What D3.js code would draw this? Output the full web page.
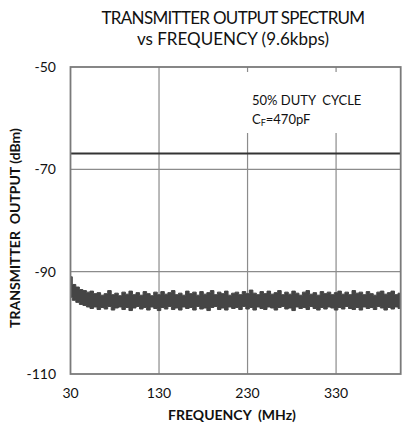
<!DOCTYPE html>
<html><head><meta charset="utf-8">
<script src="https://cdn.jsdelivr.net/npm/d3@7"></script>
<style>body{margin:0;background:#fff}svg{display:block}</style>
</head><body>
<svg id="c" width="402" height="427"></svg>
<script>
const titleLines = ["TRANSMITTER OUTPUT SPECTRUM", "vs FREQUENCY (9.6kbps)"];
const xTicks = [30, 130, 230, 330];
const yTicks = [-50, -70, -90, -110];
const xDomain = [30, 403];
const yDomain = [-110, -50];
const limitLevel = -66.9;
const freqStart = 30, freqStep = 4;
const upperEnv = [-91.0,-92.5,-93.0,-93.5,-93.7,-94.0,-93.8,-94.3,-94.1,-94.6,-94.3,-93.7,-94.5,-94.2,-94.7,-94.0,-94.4,-93.8,-94.5,-94.1,
-94.6,-93.9,-94.3,-94.7,-94.0,-94.5,-93.9,-94.4,-94.1,-93.7,-94.5,-94.2,-94.6,-93.8,-94.3,-94.0,-94.6,-93.9,-94.4,-94.1,
-93.7,-94.5,-94.0,-94.3,-93.8,-94.6,-94.2,-94.0,-94.5,-93.9,-94.3,-93.6,-94.2,-94.5,-93.9,-94.3,-93.8,-94.4,-94.1,-93.7,
-94.5,-94.0,-94.4,-93.8,-94.2,-94.6,-94.0,-93.7,-94.4,-94.1,-94.6,-93.9,-94.3,-94.0,-94.5,-94.1,-93.8,-94.4,-94.0,-94.5,
-93.7,-94.2,-94.0,-94.5,-93.9,-94.3,-94.6,-94.0,-93.8,-94.4,-94.1,-93.8,-94.5,-94.2];
const lowerEnv = [-95.0,-95.6,-96.0,-96.4,-96.6,-96.9,-97.2,-96.9,-97.4,-97.0,-97.3,-96.8,-97.5,-97.1,-96.9,-97.4,-97.0,-97.6,-97.1,-96.8,
-97.3,-97.0,-97.5,-96.9,-97.2,-97.6,-97.0,-97.3,-96.8,-97.4,-97.1,-97.5,-96.9,-97.2,-97.0,-97.5,-96.8,-97.3,-97.1,-97.6,
-97.0,-96.8,-97.4,-97.1,-97.5,-96.9,-97.2,-97.0,-97.4,-96.8,-97.3,-97.0,-97.5,-96.9,-97.2,-97.4,-96.9,-97.1,-97.5,-97.0,
-96.8,-97.3,-97.1,-97.6,-96.9,-97.2,-97.0,-97.4,-96.8,-97.2,-97.5,-97.0,-97.3,-96.9,-97.1,-97.5,-97.0,-97.3,-96.8,-97.2,
-97.4,-97.0,-97.5,-96.9,-97.2,-97.0,-97.4,-96.8,-97.1,-97.5,-97.0,-97.3,-96.9,-97.2];
const freqs = upperEnv.map((_, i) => freqStart + i * freqStep);
const trace = freqs.map((f, i) => ({f, hi: upperEnv[i], lo: lowerEnv[i]}));

const font = "Lato, 'Open Sans', sans-serif";
const m = {l: 70.5, r: 400.7, t: 67, b: 374};
const svg = d3.select("#c");
const x = d3.scaleLinear().domain(xDomain).range([m.l, m.r]);
const y = d3.scaleLinear().domain(yDomain).range([m.b, m.t]);

// gridlines
svg.append("g").selectAll("line").data(xTicks.slice(1)).join("line")
  .attr("x1", d => x(d)).attr("x2", d => x(d)).attr("y1", m.t).attr("y2", m.b)
  .attr("stroke", "#8c8c8c").attr("stroke-width", 1.2);
svg.append("g").selectAll("line").data(yTicks.slice(1, -1)).join("line")
  .attr("x1", m.l).attr("x2", m.r).attr("y1", d => y(d)).attr("y2", d => y(d))
  .attr("stroke", "#8c8c8c").attr("stroke-width", 1.2);

// annotation box
svg.append("rect").attr("x", 242).attr("y", 72).attr("width", 154).attr("height", 61).attr("fill", "#fff");
svg.append("text").attr("font-family", font).attr("font-size", 13).attr("fill", "#111")
  .attr("xml:space", "preserve").attr("x", 252).attr("y", 105).text("50% DUTY  CYCLE");
const a2 = svg.append("text").attr("font-family", font).attr("font-size", 13).attr("fill", "#111")
  .attr("x", 252).attr("y", 124);
a2.append("tspan").text("C");
a2.append("tspan").attr("font-size", 9).attr("dy", 2).text("F");
a2.append("tspan").attr("dy", -2).text("=470pF");

// limit line
svg.append("line").attr("x1", m.l).attr("x2", m.r).attr("y1", y(limitLevel)).attr("y2", y(limitLevel))
  .attr("stroke", "#333").attr("stroke-width", 2);

// noise trace
const area = d3.area().curve(d3.curveStep).x(d => x(d.f)).y0(d => y(d.lo)).y1(d => y(d.hi));
svg.append("path").datum(trace).attr("d", area).attr("fill", "#454545")
  .attr("stroke", "#454545").attr("stroke-width", 1);

// frame
svg.append("rect").attr("x", m.l).attr("y", m.t).attr("width", m.r - m.l).attr("height", m.b - m.t)
  .attr("fill", "none").attr("stroke", "#7a7a7a").attr("stroke-width", 1.8);

// tick labels
svg.append("g").selectAll("text").data(yTicks).join("text")
  .attr("x", 56).attr("y", d => y(d) + 5).attr("text-anchor", "end")
  .attr("font-family", font).attr("font-size", 14).attr("fill", "#111").text(d => d);
svg.append("g").selectAll("text").data(xTicks).join("text")
  .attr("x", d => x(d)).attr("y", 398).attr("text-anchor", "middle")
  .attr("font-family", font).attr("font-size", 14).attr("fill", "#111").text(d => d);

// axis titles
svg.append("text").attr("x", 232).attr("y", 420).attr("text-anchor", "middle")
  .attr("font-family", font).attr("font-size", 14).attr("font-weight", "bold").attr("fill", "#111")
  .attr("xml:space", "preserve").text("FREQUENCY  (MHz)");
svg.append("text").attr("transform", "translate(20,228) rotate(-90)").attr("text-anchor", "middle")
  .attr("font-family", font).attr("font-size", 14).attr("font-weight", "bold").attr("fill", "#111")
  .attr("xml:space", "preserve").text("TRANSMITTER  OUTPUT (dBm)");

// title
svg.append("g").selectAll("text").data(titleLines).join("text")
  .attr("x", 233).attr("y", (d, i) => 24 + i * 21).attr("text-anchor", "middle")
  .attr("font-family", font).attr("font-size", 17).attr("fill", "#111")
  .attr("letter-spacing", (d, i) => i === 0 ? -0.7 : 0).text(d => d);
</script>
</body></html>
